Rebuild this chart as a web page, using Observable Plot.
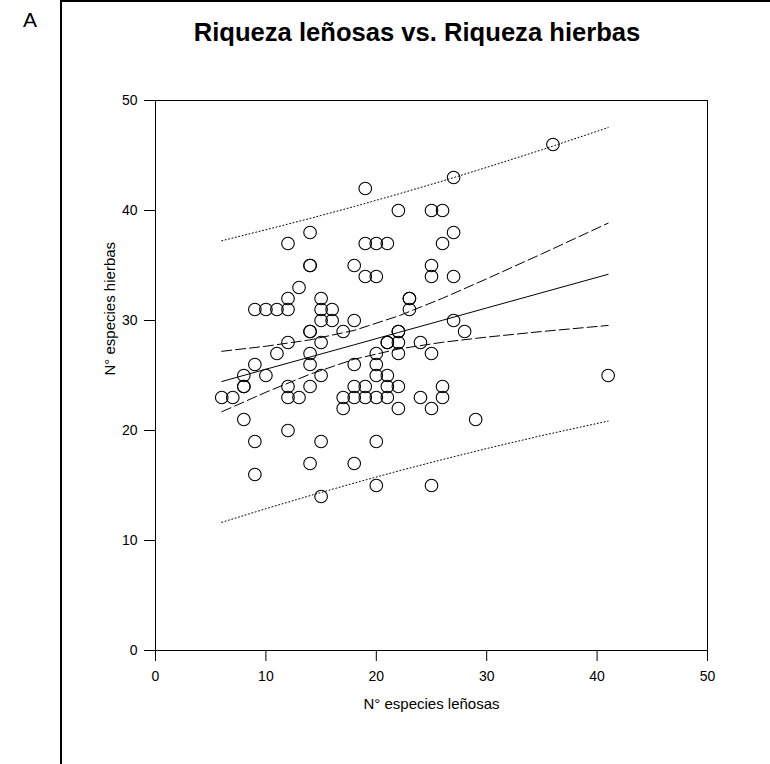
<!DOCTYPE html>
<html>
<head>
<meta charset="utf-8">
<script src="https://cdn.jsdelivr.net/npm/d3@7"></script>
<script src="https://cdn.jsdelivr.net/npm/@observablehq/plot@0.6"></script>
<style>
  html, body { margin: 0; padding: 0; background: #fff; }
  body { width: 770px; height: 764px; overflow: hidden; position: relative; font-family: "Liberation Sans", Arial, sans-serif; }
  #panel { position: absolute; left: 0; top: 0; }
  #frame { position: absolute; left: 60px; top: 0; width: 800px; height: 900px; border-left: 2px solid #000; border-top: 2px solid #000; box-sizing: border-box; }
  #letter { position: absolute; left: 23px; top: 8px; font-size: 21px; color: #000; }
  #title { position: absolute; left: 141px; width: 552px; top: 18px; text-align: center; font-size: 25.6px; font-weight: bold; color: #000; white-space: nowrap; }
</style>
</head>
<body>
<div id="panel"></div>
<div id="frame"></div>
<div id="letter">A</div>
<div id="title">Riqueza leñosas vs. Riqueza hierbas</div>
<script>
// Observations: N° especies leñosas (x) and N° especies hierbas (y)
const lenosas = [
  36,
  27,
  19,
  22, 25, 26,
  14, 27,
  12, 19, 20, 21, 26,
  14, 14, 18, 25,
  19, 20, 25, 27,
  13,
  12, 15, 23, 23,
  9, 10, 11, 12, 15, 16, 23,
  15, 16, 18, 27,
  14, 14, 17, 22, 22, 28,
  12, 15, 21, 21, 22, 24,
  11, 14, 20, 22, 25,
  9, 14, 18, 20,
  8, 10, 15, 20, 21, 41,
  8, 8, 12, 14, 18, 19, 21, 22, 26,
  6, 7, 12, 13, 17, 18, 19, 20, 21, 24, 26,
  17, 22, 25,
  8, 29,
  12,
  9, 15, 20,
  14, 18,
  9,
  20, 25,
  15
];
const hierbas = [
  46,
  43,
  42,
  40, 40, 40,
  38, 38,
  37, 37, 37, 37, 37,
  35, 35, 35, 35,
  34, 34, 34, 34,
  33,
  32, 32, 32, 32,
  31, 31, 31, 31, 31, 31, 31,
  30, 30, 30, 30,
  29, 29, 29, 29, 29, 29,
  28, 28, 28, 28, 28, 28,
  27, 27, 27, 27, 27,
  26, 26, 26, 26,
  25, 25, 25, 25, 25, 25,
  24, 24, 24, 24, 24, 24, 24, 24, 24,
  23, 23, 23, 23, 23, 23, 23, 23, 23, 23, 23,
  22, 22, 22,
  21, 21,
  20,
  19, 19, 19,
  17, 17,
  16,
  15, 15,
  14
];

// Regression line, 95% confidence band and prediction band
const fitX    = [6, 10, 14, 18, 22, 26, 30, 35, 41];
const fitY    = [24.45, 25.57, 26.68, 27.79, 28.91, 30.02, 31.14, 32.53, 34.20];
const ciUpper = [27.20, 27.66, 28.24, 29.10, 30.41, 32.02, 33.79, 36.06, 38.85];
const ciLower = [21.70, 23.48, 25.12, 26.48, 27.41, 28.02, 28.49, 29.00, 29.55];
const piUpper = [37.25, 38.25, 39.28, 40.36, 41.50, 42.68, 43.92, 45.52, 47.54];
const piLower = [11.65, 12.89, 14.08, 15.22, 16.32, 17.36, 18.36, 19.54, 20.86];

const xTicks = [0, 10, 20, 30, 40, 50];
const yTicks = [0, 10, 20, 30, 40, 50];
const xLabel = "N° especies leñosas";
const yLabel = "N° especies hierbas";

const points = lenosas.map((x, i) => ({x, y: hierbas[i]}));
const curve = (ys) => fitX.map((x, i) => ({x, y: ys[i]}));

const chart = Plot.plot({
  width: 770,
  height: 764,
  marginLeft: 155,
  marginRight: 63,
  marginTop: 100,
  marginBottom: 114,
  style: {
    fontFamily: "'Liberation Sans', Arial, sans-serif",
    fontSize: "14px",
    background: "transparent",
    color: "#000"
  },
  x: {domain: [0, 50], ticks: xTicks, tickFormat: d => String(d), tickSize: 11, tickPadding: 10, label: null},
  y: {domain: [0, 50], ticks: yTicks, tickFormat: d => String(d), tickSize: 11, tickPadding: 7, label: null},
  marks: [
    Plot.frame({stroke: "#000", strokeWidth: 1}),
    Plot.line(curve(piUpper), {x: "x", y: "y", stroke: "#000", strokeWidth: 1, strokeDasharray: "1,2.5"}),
    Plot.line(curve(piLower), {x: "x", y: "y", stroke: "#000", strokeWidth: 1, strokeDasharray: "1,2.5"}),
    Plot.line(curve(ciUpper), {x: "x", y: "y", stroke: "#000", strokeWidth: 1, strokeDasharray: "10,4"}),
    Plot.line(curve(ciLower), {x: "x", y: "y", stroke: "#000", strokeWidth: 1, strokeDasharray: "10,4"}),
    Plot.line(curve(fitY), {x: "x", y: "y", stroke: "#000", strokeWidth: 1}),
    Plot.dot(points, {x: "x", y: "y", r: 6.3, stroke: "#000", strokeWidth: 1.1, fill: "none"}),
    Plot.text([xLabel], {frameAnchor: "bottom", dy: 58, fontSize: 15, fill: "#000"}),
    Plot.text([yLabel], {frameAnchor: "left", dx: -45, rotate: -90, fontSize: 15, fill: "#000"})
  ]
});
document.getElementById("panel").appendChild(chart);
</script>
</body>
</html>
